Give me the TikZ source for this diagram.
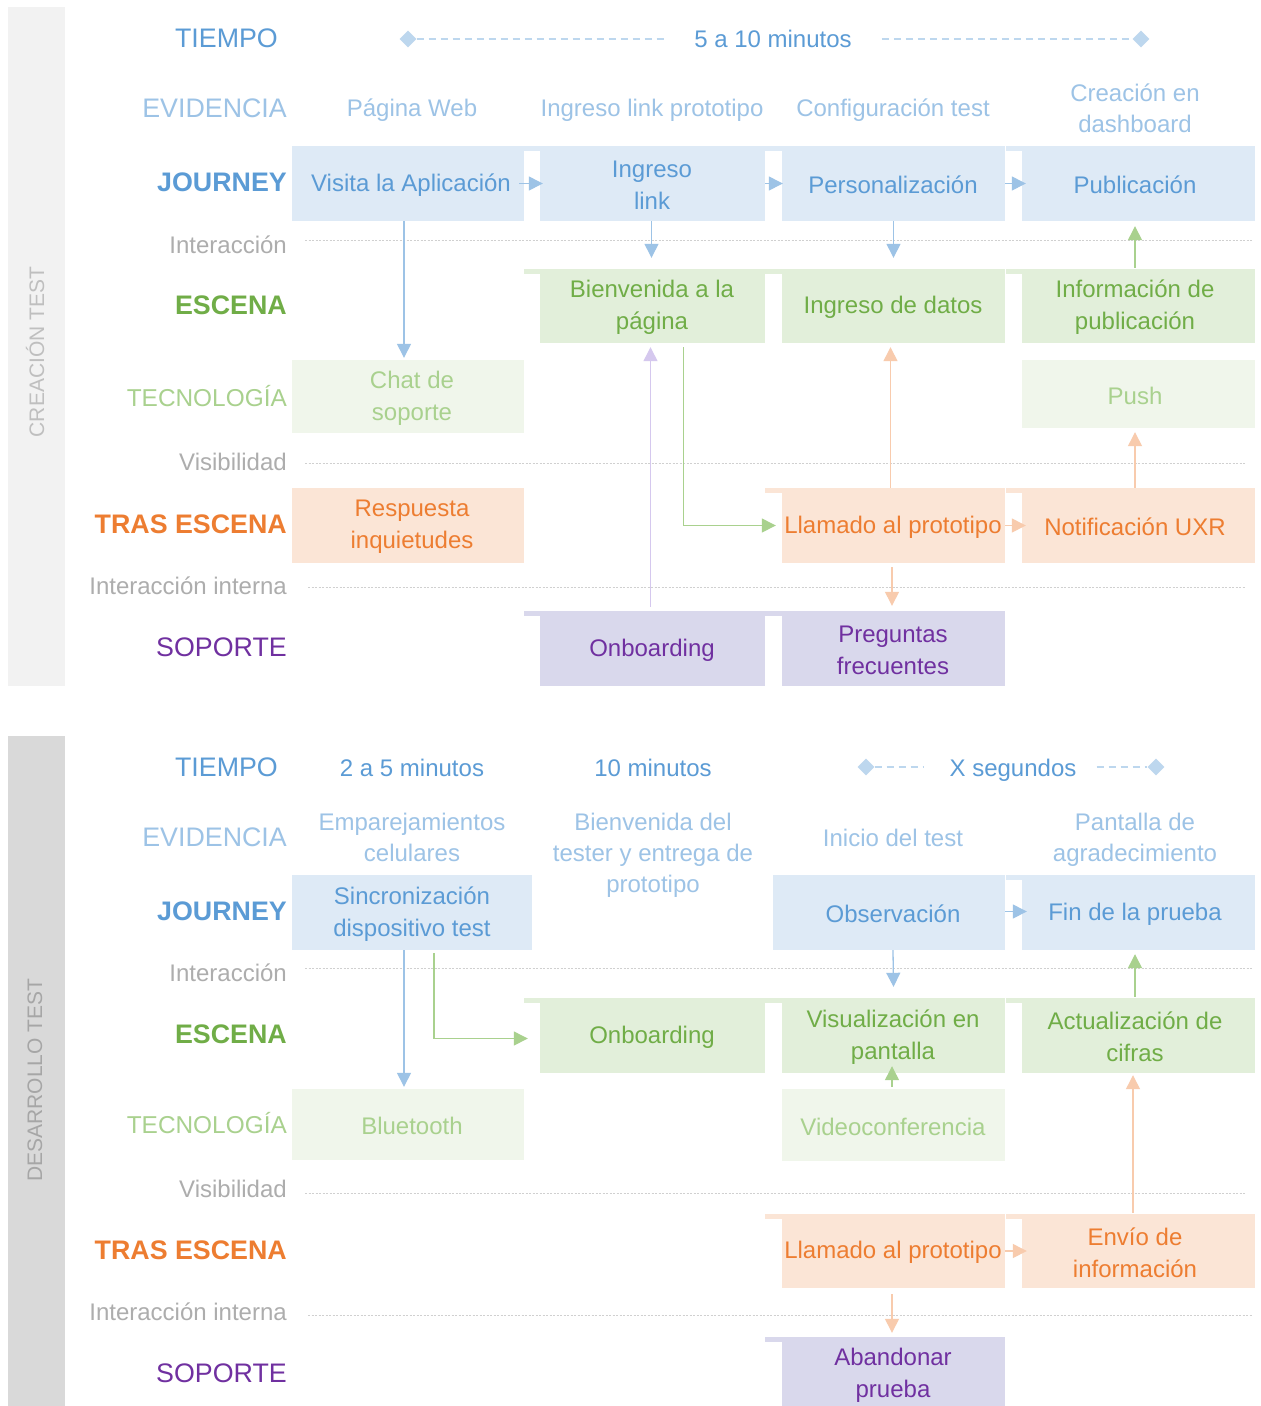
\documentclass[tikz,border=0pt]{standalone}
\usepackage{fontspec}
\setmainfont{Liberation Sans}
\usetikzlibrary{arrows.meta,shapes.geometric}
\definecolor{jblue}{HTML}{5B9BD5}
\definecolor{evblue}{HTML}{9DC3E6}
\definecolor{jfill}{HTML}{DEEAF6}
\definecolor{tmblue}{HTML}{BDD7EE}
\definecolor{egreen}{HTML}{70AD47}
\definecolor{efill}{HTML}{E2EFDA}
\definecolor{tgreen}{HTML}{A9D18E}
\definecolor{tfill}{HTML}{F0F6EB}
\definecolor{rorange}{HTML}{ED7D31}
\definecolor{rfill}{HTML}{FBE5D6}
\definecolor{spurple}{HTML}{7030A0}
\definecolor{sfill}{HTML}{D9D8EC}
\definecolor{glabel}{HTML}{ADADAD}
\definecolor{sepgray}{HTML}{D0D0D0}
\definecolor{side1}{HTML}{F2F2F2}
\definecolor{side2}{HTML}{D9D9D9}
\definecolor{side1t}{HTML}{BFBFBF}
\definecolor{side2t}{HTML}{A6A6A6}
\definecolor{abl}{HTML}{9DC3E6}
\definecolor{agr}{HTML}{A9D18E}
\definecolor{aor}{HTML}{F8CBAD}
\definecolor{apu}{HTML}{D5C8EE}
\tikzset{
  bxbase/.style={inner sep=0pt, align=center, font=\fontsize{24}{32}\selectfont},
  jb/.style={bxbase, fill=jfill, text=jblue},
  eb/.style={bxbase, fill=efill, text=egreen},
  tb/.style={bxbase, fill=tfill, text=tgreen},
  rb/.style={bxbase, fill=rfill, text=rorange},
  sb/.style={bxbase, fill=sfill, text=spurple},
  lab/.style={anchor=east, inner sep=0pt, font=\fontsize{26.8}{30}\selectfont},
  glab/.style={anchor=east, inner sep=0pt, text=glabel, font=\fontsize{24}{28}\selectfont},
  evt/.style={inner sep=0pt, text=evblue, align=center, font=\fontsize{24}{31}\selectfont},
  tmt/.style={inner sep=0pt, text=jblue, font=\fontsize{24}{28}\selectfont},
  sepline/.style={draw=sepgray, line width=0.9pt, dash pattern=on 2pt off 1.5pt},
  tmline/.style={draw=tmblue, line width=1.2pt, dash pattern=on 7pt off 5pt},
  dmd/.style={diamond, fill=tmblue, inner sep=0pt, minimum size=17pt},
  arr/.style={line width=1.3pt, -{Triangle[length=14pt,width=14pt]}},
  sidet/.style={rotate=90, inner sep=0pt, font=\fontsize{21}{24}\selectfont}
}
% \bx{name}{style}{x0}{y0}{x1}{y1}{text x}{text}
\newcommand\bx[8]{%
  \node[#2, minimum width={(#5-#3)*1pt}, minimum height={(#6-#4)*1pt}] (#1) at ({(#3+#5)/2},{(#4+#6)/2}) {};
  \node[#2, fill=none, minimum width=0pt, minimum height=0pt] (#1t) at (#7,{(#4+#6)/2+1.5}) {#8};}
% strip in the gap left of a box, along its top
\newcommand\strp[3]{\fill[#2] ([xshift=-#3pt]#1.north west) rectangle ([yshift=-5pt]#1.north west);}
\begin{document}
\begin{tikzpicture}[x=1pt,y=-1pt]
\useasboundingbox (0,0) rectangle (1261,1406);
\fill[white] (0,0) rectangle (1261,1406);
% side bars
\fill[side1] (8,7) rectangle (65,686);
\fill[side2] (8,736) rectangle (65,1406);
\node[sidet, text=side1t] (side1n) at (35,352) {CREACIÓN TEST};
\node[sidet, text=side2t] (side2n) at (35,1080) {DESARROLLO TEST};

% ================= TOP SECTION =================
\node[lab, text=jblue] (L1) at (278,38) {TIEMPO};
\node[lab, text=evblue] (L2) at (287,108) {EVIDENCIA};
\node[lab, text=jblue] (L3) at (287,182) {\textbf{JOURNEY}};
\node[glab] (L4) at (287,245) {Interacción};
\node[lab, text=egreen] (L5) at (287,305) {\textbf{ESCENA}};
\node[lab, text=tgreen, font=\fontsize{24.4}{28}\selectfont] (L6) at (287,396) {TECNOLOGÍA};
\node[glab] (L7) at (287,462) {Visibilidad};
\node[lab, text=rorange] (L8) at (287,524) {\textbf{TRAS ESCENA}};
\node[glab] (L9) at (287,586) {Interacción interna};
\node[lab, text=spurple] (L10) at (287,647) {SOPORTE};

% separators
\coordinate (s1a) at (305,240); \coordinate (s1b) at (1252,240);
\coordinate (s2a) at (305,463); \coordinate (s2b) at (1245,463);
\coordinate (s3a) at (308,587); \coordinate (s3b) at (1245,587);
\draw[sepline] (s1a) -- (s1b);
\draw[sepline] (s2a) -- (s2b);
\draw[sepline] (s3a) -- (s3b);

% tiempo
\node[dmd] (d1) at (408,39) {};
\node[tmt] (tt1) at (773,39) {5 a 10 minutos};
\node[dmd] (d2) at (1141,39) {};
\draw[tmline] (d1.east) -- ([xshift=-30pt]tt1.west);
\draw[tmline] ([xshift=30pt]tt1.east) -- (d2.west);

% evidencia
\node[evt] (ev1) at (412,110) {Página Web};
\node[evt] (ev2) at (652,110) {Ingreso link prototipo};
\node[evt] (ev3) at (893,110) {Configuración test};
\node[evt] (ev4) at (1135,108) {Creación en\\dashboard};

% journey
\bx{j1}{jb}{292}{146}{524}{221}{411}{Visita la Aplicación}
\bx{j2}{jb}{540}{146}{765}{221}{652}{Ingreso\\link}
\bx{j3}{jb}{782}{146}{1005}{221}{893}{Personalización}
\bx{j4}{jb}{1022}{146}{1255}{221}{1135}{Publicación}
\strp{j2}{jfill}{16}
\strp{j3}{jfill}{17}
\strp{j4}{jfill}{16}

% escena
\bx{e2}{eb}{540}{269}{765}{343}{652}{Bienvenida a la\\página}
\bx{e3}{eb}{782}{269}{1005}{343}{893}{Ingreso de datos}
\bx{e4}{eb}{1022}{269}{1255}{343}{1135}{Información de\\publicación}
\strp{e2}{efill}{16}
\strp{e3}{efill}{17}
\strp{e4}{efill}{16}

% tecnologia
\bx{t1}{tb}{292}{360}{524}{433}{412}{Chat de\\soporte}
\bx{t4}{tb}{1022}{360}{1255}{428}{1135}{Push}

% tras escena
\bx{r1}{rb}{292}{488}{524}{563}{412}{Respuesta\\inquietudes}
\bx{r3}{rb}{782}{488}{1005}{563}{893}{Llamado al prototipo}
\bx{r4}{rb}{1022}{488}{1255}{563}{1135}{Notificación UXR}
\strp{r3}{rfill}{17}
\strp{r4}{rfill}{16}

% soporte
\bx{s2}{sb}{540}{611}{765}{686}{652}{Onboarding}
\bx{s3}{sb}{782}{611}{1005}{686}{893}{Preguntas\\frecuentes}
\strp{s2}{sfill}{16}
\strp{s3}{sfill}{17}

% arrows top
\draw[arr, abl] ([xshift=-5pt]j1.east) -- ([xshift=3pt]j1.east -| j2.west);
\draw[arr, abl] (j2.east) -- ([xshift=1pt]j2.east -| j3.west);
\draw[arr, abl] (j3.east) -- ([xshift=4pt]j3.east -| j4.west);
\draw[arr, abl] ([xshift=-4pt]j1.south) -- ([xshift=-4pt,yshift=2pt]t1.north);
\draw[arr, abl] ([xshift=-1pt]j2.south) -- ([xshift=-1pt,yshift=11pt]e2.north);
\draw[arr, abl] (j3.south) -- ([yshift=11pt]e3.north);
\draw[arr, agr] ([xshift=-3.5pt,yshift=1pt]e4.north) -- ([xshift=-3.5pt,yshift=-5pt]j4.south);
\draw[arr, apu] ([xshift=-2pt,yshift=4pt]s2.north) -- ([xshift=-2pt,yshift=-4pt]e2.south);
\draw[arr, agr] ([xshift=31pt,yshift=-4pt]e2.south) |- ([xshift=-6pt]r3.west);
\draw[arr, aor] ([xshift=-3pt]r3.north) -- ([xshift=-3pt,yshift=-4pt]e3.south);
\draw[arr, aor] (r3.east) -- ([xshift=4pt]r3.east -| r4.west);
\draw[arr, aor] ([xshift=-3.5pt]r4.north) -- ([xshift=-3.5pt,yshift=-4pt]t4.south);
\draw[arr, aor] ([xshift=-1.5pt,yshift=-4pt]r3.south) -- ([xshift=-1.5pt,yshift=5pt]s3.north);

% ================= BOTTOM SECTION =================
\node[lab, text=jblue] (M1) at (278,767) {TIEMPO};
\node[lab, text=evblue] (M2) at (287,837) {EVIDENCIA};
\node[lab, text=jblue] (M3) at (287,911) {\textbf{JOURNEY}};
\node[glab] (M4) at (287,973) {Interacción};
\node[lab, text=egreen] (M5) at (287,1034) {\textbf{ESCENA}};
\node[lab, text=tgreen, font=\fontsize{24.4}{28}\selectfont] (M6) at (287,1123) {TECNOLOGÍA};
\node[glab] (M7) at (287,1189) {Visibilidad};
\node[lab, text=rorange] (M8) at (287,1250) {\textbf{TRAS ESCENA}};
\node[glab] (M9) at (287,1312) {Interacción interna};
\node[lab, text=spurple] (M10) at (287,1373) {SOPORTE};

\coordinate (u1a) at (305,968); \coordinate (u1b) at (1252,968);
\coordinate (u2a) at (305,1193); \coordinate (u2b) at (1245,1193);
\coordinate (u3a) at (308,1315); \coordinate (u3b) at (1252,1315);
\draw[sepline] (u1a) -- (u1b);
\draw[sepline] (u2a) -- (u2b);
\draw[sepline] (u3a) -- (u3b);

% tiempo
\node[tmt] (ut1) at (412,768) {2 a 5 minutos};
\node[tmt] (ut2) at (653,768) {10 minutos};
\node[dmd] (ud1) at (866,767) {};
\node[tmt] (ut3) at (1013,770) {X segundos};
\node[dmd] (ud2) at (1156,767) {};
\draw[tmline] (ud1.east) -- ([xshift=-25pt]ut3.west |- ud1.east);
\draw[tmline] ([xshift=20pt]ut3.east |- ud2.west) -- (ud2.west);

% evidencia
\node[evt] (uev1) at (412,837) {Emparejamientos\\celulares};
\node[evt] (uev2) at (653,855.5) {Bienvenida del\\tester y entrega de\\prototipo};
\node[evt] (uev3) at (893,838) {Inicio del test};
\node[evt] (uev4) at (1135,840) {Pantalla de\\agradecimiento};

% journey
\bx{J1}{jb}{292}{875}{532}{950}{412}{Sincronización\\dispositivo test}
\bx{J3}{jb}{773}{875}{1005}{950}{893}{Observación}
\bx{J4}{jb}{1022}{875}{1255}{950}{1135}{Fin de la prueba}
\strp{J4}{jfill}{16}

% escena
\bx{E2}{eb}{540}{998}{765}{1073}{652}{Onboarding}
\bx{E3}{eb}{782}{998}{1005}{1073}{893}{Visualización en\\pantalla}
\bx{E4}{eb}{1022}{998}{1255}{1073}{1135}{Actualización de\\cifras}
\strp{E2}{efill}{16}
\strp{E3}{efill}{17}
\strp{E4}{efill}{16}

% tecnologia
\bx{T1}{tb}{292}{1089}{524}{1160}{412}{Bluetooth}
\bx{T3}{tb}{782}{1089}{1005}{1161}{893}{Videoconferencia}

% tras escena
\bx{R3}{rb}{782}{1214}{1005}{1288}{893}{Llamado al prototipo}
\bx{R4}{rb}{1022}{1214}{1255}{1288}{1135}{Envío de\\información}
\strp{R3}{rfill}{17}
\strp{R4}{rfill}{16}

% soporte
\bx{S3}{sb}{782}{1337}{1005}{1411}{893}{Abandonar\\prueba}
\strp{S3}{sfill}{17}

% arrows bottom
\draw[arr, abl] ([xshift=-4pt]T1.north |- J1.south) -- ([xshift=-4pt,yshift=2pt]T1.north);
\draw[arr, agr] ([xshift=22pt,yshift=-3pt]J1.south) |- ([xshift=-12pt,yshift=-3pt]E2.west);
\draw[arr, abl] ([yshift=1pt]J3.east) -- ([xshift=5pt,yshift=1pt]J3.east -| J4.west);
\draw[arr, abl] ([xshift=4pt]J3.south) -- ([yshift=11pt]E3.north);
\draw[arr, agr] ([xshift=-3.5pt,yshift=1pt]E4.north) -- ([xshift=-3.5pt,yshift=-4pt]J4.south);
\draw[arr, agr] ([xshift=-1.5pt,yshift=2pt]T3.north) -- ([xshift=-1.5pt,yshift=7pt]E3.south);
\draw[arr, aor] (R3.east) -- ([xshift=5pt]R3.east -| R4.west);
\draw[arr, aor] ([xshift=-5.5pt,yshift=1pt]R4.north) -- ([xshift=-5.5pt,yshift=-2pt]E4.south);
\draw[arr, aor] ([xshift=-1.5pt,yshift=-6pt]R3.south) -- ([xshift=-1.5pt,yshift=4pt]S3.north);
\end{tikzpicture}
\end{document}
